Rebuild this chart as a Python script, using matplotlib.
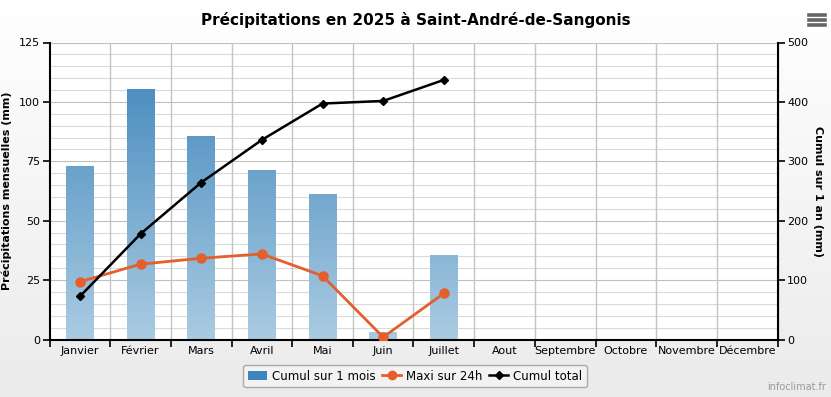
import numpy as np
import matplotlib
matplotlib.use("Agg")
import matplotlib.pyplot as plt
from matplotlib.lines import Line2D
from matplotlib.patches import Patch, FancyBboxPatch

months = ["Janvier", "Février", "Mars", "Avril", "Mai", "Juin", "Juillet",
          "Aout", "Septembre", "Octobre", "Novembre", "Décembre"]
cumul_mois = [73.0, 105.3, 85.6, 71.3, 61.2, 3.1, 35.5]
maxi_24h = [24.3, 31.7, 34.2, 36.0, 26.8, 1.0, 19.4]
cumul_total = [72.4, 177.7, 264.3, 336.0, 397.2, 401.6, 437.0]

W, H = 831, 397
fig = plt.figure(figsize=(W / 100, H / 100), dpi=100)

# background gradient of the whole chart
bg = fig.add_axes([0, 0, 1, 1], zorder=-10)
grad = np.linspace(1.0, 0.0, 256).reshape(-1, 1)
bg.imshow(grad, aspect="auto", cmap=matplotlib.colors.LinearSegmentedColormap.from_list(
    "bg", ["#ebebeb", "#ffffff"]), extent=[0, 1, 0, 1])
bg.set_axis_off()

ax = fig.add_axes([49.5 / W, 1 - 339.5 / H, (777.5 - 49.5) / W, (339.5 - 42.5) / H])
ax.set_facecolor("white")
x = np.arange(len(months))

# grid
for v in np.arange(5, 125, 5):
    ax.axhline(v, color="#dadada" if v % 25 else "#c0c0c0", lw=0.8, zorder=0)
ax.axhline(125, color="#c0c0c0", lw=0.8, zorder=0)
for b in np.arange(0.5, len(months) - 0.5, 1):
    ax.axvline(b, color="#c4c4c4", lw=1.0, zorder=0)

# gradient bars
cmap_bar = matplotlib.colors.LinearSegmentedColormap.from_list("bar", ["#aacbe2", "#4a8dbf"])
bw = 0.46
bars = ax.bar(x[:len(cumul_mois)], cumul_mois, width=bw, color="none", zorder=1)
for rect in bars:
    x0, h = rect.get_x(), rect.get_height()
    g = np.linspace(0, h / 110.0, 100).reshape(-1, 1)
    im = ax.imshow(g, aspect="auto", cmap=cmap_bar, vmin=0, vmax=1, origin="lower",
                   extent=[x0, x0 + bw, 0, h], zorder=1)
    im.set_clip_path(rect)
ax.set_xlim(-0.5, len(months) - 0.5)
ax.set_ylim(0, 125)

ax.plot(x[:len(maxi_24h)], maxi_24h, color="#e45f2b", lw=2, marker="o", ms=6.5, zorder=3)

ax2 = ax.twinx()
ax2.set_ylim(0, 500)
ax2.plot(x[:len(cumul_total)], cumul_total, color="black", lw=1.8, marker="D", ms=4.5, zorder=4)

# axes styling
for a in (ax, ax2):
    a.spines["top"].set_visible(False)
ax.spines["left"].set_linewidth(1.5)
ax.spines["bottom"].set_linewidth(1.5)
ax2.spines["right"].set_linewidth(1.5)
ax2.spines["left"].set_visible(False)
ax2.spines["bottom"].set_visible(False)

ax.set_yticks([0, 25, 50, 75, 100, 125])
ax2.set_yticks([0, 100, 200, 300, 400, 500])
ax.set_xticks(x)
ax.set_xticklabels(months, fontsize=8)
ax.tick_params(axis="x", length=0, pad=5)
ax.set_xticks(np.arange(-0.5, len(months), 1), minor=True)
ax.tick_params(axis="x", which="minor", length=5, width=1.2, direction="out")
ax.tick_params(axis="y", labelsize=8, length=5, width=1.2, pad=2)
ax2.tick_params(axis="y", labelsize=8, length=5, width=1.2, pad=2)

ax.set_ylabel("Précipitations mensuelles (mm)", fontsize=8, fontweight="bold")
ax.yaxis.set_label_coords((12 - 49.5) / 728, 0.5)
ax2.set_ylabel("Cumul sur 1 an (mm)", fontsize=8, fontweight="bold", rotation=270, va="center")
ax2.yaxis.set_label_coords((818 - 49.5) / 728, 0.5)

fig.text(0.5, 1 - 20 / H, "Précipitations en 2025 à Saint-André-de-Sangonis",
         ha="center", va="center", fontsize=11, fontweight="bold")

# menu icon
fig.add_artist(FancyBboxPatch((806 / W, 1 - 31 / H), 22 / W, 21 / H,
                              boxstyle="round,pad=0,rounding_size=0.005",
                              facecolor="white", edgecolor="none", transform=fig.transFigure))
for yy in (15, 20, 25):
    fig.add_artist(Line2D([809 / W, 825 / W], [1 - yy / H] * 2, color="#666666", lw=2.6))

# legend
handles = [Patch(facecolor="#3e85bb", edgecolor="none"),
           Line2D([], [], color="#e45f2b", lw=2, marker="o", ms=6),
           Line2D([], [], color="black", lw=1.8, marker="D", ms=4)]
leg = fig.legend(handles, ["Cumul sur 1 mois", "Maxi sur 24h", "Cumul total"],
                 loc="center", bbox_to_anchor=(415 / W, 1 - 376 / H), ncol=3,
                 fontsize=8.5, frameon=True, handlelength=1.6, handletextpad=0.4,
                 columnspacing=0.6, borderpad=0.4, fancybox=True)
leg.get_frame().set_edgecolor("#999999")
leg.get_frame().set_facecolor("#f5f5f5")

fig.text(826 / W, 1 - 392 / H, "infoclimat.fr", ha="right", va="bottom",
         fontsize=7, color="#999999")

fig.savefig("out.png", dpi=100)
